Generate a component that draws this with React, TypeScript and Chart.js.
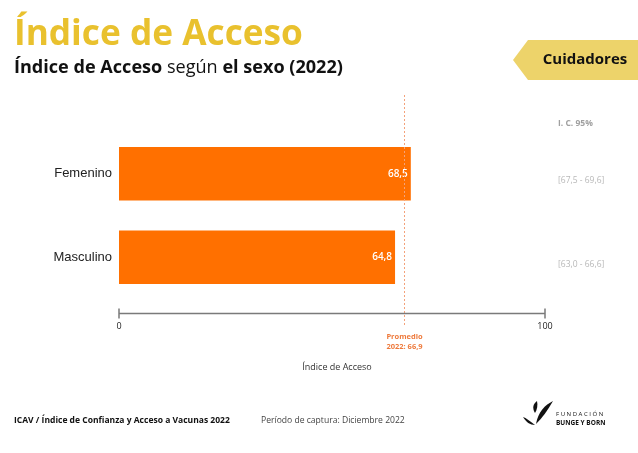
import React, { useEffect, useRef } from "react";
import { Chart, registerables } from "chart.js";

Chart.register(...registerables);

const categories = ["Femenino", "Masculino"];
const values = [68.5, 64.8];
const ciLabels = ["[67,5 - 69,6]", "[63,0 - 66,6]"];
const average = 66.9;
const xTickValues = [0, 100];

const W = 638;
const H = 453;
const ORANGE = "#FF7000";
const YELLOW = "#E9C12E";
const SANS = '"Open Sans", "DejaVu Sans", sans-serif';
const ARIAL = '"Liberation Sans", Arial, sans-serif';

const fmt = (v: number) => v.toFixed(1).replace(".", ",");

function fitSize(ctx: CanvasRenderingContext2D, parts: { t: string; w: string }[], family: string, target: number) {
  let total = 0;
  for (const p of parts) {
    ctx.font = `${p.w} 20px ${family}`;
    total += ctx.measureText(p.t).width;
  }
  return (20 * target) / total;
}

function drawParts(ctx: CanvasRenderingContext2D, parts: { t: string; w: string }[], family: string, size: number, x: number, y: number, color: string) {
  ctx.fillStyle = color;
  ctx.textAlign = "left";
  ctx.textBaseline = "middle";
  let cx = x;
  for (const p of parts) {
    ctx.font = `${p.w} ${size}px ${family}`;
    ctx.fillText(p.t, cx, y);
    cx += ctx.measureText(p.t).width;
  }
}

const decorPlugin = {
  id: "decor",
  afterDatasetsDraw(chart: any) {
    const ctx: CanvasRenderingContext2D = chart.ctx;
    const xs = chart.scales.x;
    const ys = chart.scales.y;
    ctx.save();
    // value labels
    const meta = chart.getDatasetMeta(0);
    meta.data.forEach((bar: any, i: number) => {
      ctx.font = `600 10px ${SANS}`;
      ctx.fillStyle = "#FFFFFF";
      ctx.textAlign = "right";
      ctx.textBaseline = "middle";
      ctx.fillText(fmt(values[i]), bar.x - 3, bar.y);
    });
    // average line
    const ax = Math.round(xs.getPixelForValue(average)) + 0.5;
    ctx.strokeStyle = "#F4A27A";
    ctx.lineWidth = 1;
    ctx.setLineDash([2, 2]);
    ctx.beginPath();
    ctx.moveTo(ax, 95);
    ctx.lineTo(ax, 327);
    ctx.stroke();
    ctx.setLineDash([]);
    ctx.font = `bold 7.5px ${SANS}`;
    ctx.fillStyle = "#EE7A3C";
    ctx.textAlign = "center";
    ctx.textBaseline = "middle";
    ctx.fillText("Promedio", ax, 337);
    ctx.fillText("2022: " + fmt(average), ax, 347);
    // axis line
    const axisY = 313.5;
    const x0 = xs.getPixelForValue(xTickValues[0]);
    const x1 = xs.getPixelForValue(xTickValues[xTickValues.length - 1]);
    ctx.strokeStyle = "#7A7A7A";
    ctx.lineWidth = 1.5;
    ctx.beginPath();
    ctx.moveTo(x0, axisY);
    ctx.lineTo(x1, axisY);
    xTickValues.forEach((v) => {
      const px = xs.getPixelForValue(v);
      ctx.moveTo(px, axisY - 5);
      ctx.lineTo(px, axisY + 5);
    });
    ctx.stroke();
    // CI column
    ctx.textAlign = "left";
    ctx.font = `bold 8.5px ${SANS}`;
    ctx.fillStyle = "#A0A0A0";
    ctx.fillText("I. C. 95%", 558, 124);
    ctx.font = `8.5px ${SANS}`;
    ctx.fillStyle = "#B8B8B8";
    categories.forEach((c, i) => {
      const py = ys.getPixelForValue(i);
      ctx.fillText(ciLabels[i], 558, py + 7);
    });
    ctx.restore();
  },
  afterDraw(chart: any) {
    const ctx: CanvasRenderingContext2D = chart.ctx;
    ctx.save();
    // title
    const tParts = [{ t: "Índice de Acceso", w: "bold" }];
    const ts = fitSize(ctx, tParts, SANS, 289);
    drawParts(ctx, tParts, SANS, ts, 14, 35, YELLOW);
    // subtitle
    const sParts = [
      { t: "Índice de Acceso ", w: "bold" },
      { t: "según ", w: "normal" },
      { t: "el sexo (2022)", w: "bold" },
    ];
    const ss = fitSize(ctx, sParts, SANS, 329);
    drawParts(ctx, sParts, SANS, ss, 14, 68, "#111111");
    // tag
    ctx.fillStyle = "#EDD36A";
    ctx.beginPath();
    ctx.moveTo(513, 60);
    ctx.lineTo(528, 40);
    ctx.lineTo(638, 40);
    ctx.lineTo(638, 80);
    ctx.lineTo(528, 80);
    ctx.closePath();
    ctx.fill();
    ctx.fillStyle = "#111111";
    ctx.font = `bold 15px ${SANS}`;
    ctx.textAlign = "center";
    ctx.textBaseline = "middle";
    ctx.fillText("Cuidadores", 585, 60);
    // x axis title
    ctx.font = `9px ${SANS}`;
    ctx.fillStyle = "#333333";
    ctx.fillText("Índice de Acceso", 337, 367);
    // footer
    const f1 = [{ t: "ICAV / Índice de Confianza y Acceso a Vacunas 2022", w: "bold" }];
    drawParts(ctx, f1, SANS, fitSize(ctx, f1, SANS, 216), 14, 421, "#111111");
    const f2 = [{ t: "Período de captura: Diciembre 2022", w: "normal" }];
    drawParts(ctx, f2, SANS, fitSize(ctx, f2, SANS, 144), 261, 421, "#444444");
    // logo
    ctx.fillStyle = "#111111";
    ctx.beginPath();
    ctx.moveTo(536, 424);
    ctx.bezierCurveTo(542, 418, 548, 410, 553, 401);
    ctx.bezierCurveTo(545, 405, 538, 412, 536, 424);
    ctx.closePath();
    ctx.fill();
    ctx.beginPath();
    ctx.moveTo(535, 425);
    ctx.bezierCurveTo(530, 421, 526, 418, 523, 417);
    ctx.bezierCurveTo(526, 422, 530, 425, 535, 425);
    ctx.closePath();
    ctx.fill();
    ctx.beginPath();
    ctx.moveTo(535, 413);
    ctx.bezierCurveTo(532, 408, 533, 404, 537, 401);
    ctx.bezierCurveTo(538, 405, 537, 410, 535, 413);
    ctx.closePath();
    ctx.fill();
    ctx.textAlign = "left";
    ctx.font = `6px ${SANS}`;
    ctx.fillText("F U N D A C I Ó N", 556, 414);
    ctx.font = `bold 6.5px ${SANS}`;
    ctx.fillText("BUNGE Y BORN", 556, 423);
    ctx.restore();
  },
};

export default function App() {
  const ref = useRef<HTMLCanvasElement>(null);
  useEffect(() => {
    document.body.style.margin = "0";
    document.body.style.background = "#FFFFFF";
    const chart = new Chart(ref.current!, {
      type: "bar",
      data: {
        labels: categories,
        datasets: [
          {
            data: values,
            backgroundColor: ORANGE,
            borderWidth: 0,
            barPercentage: 0.64,
            categoryPercentage: 1,
          },
        ],
      },
      options: {
        indexAxis: "y",
        responsive: false,
        animation: false,
        layout: { padding: { left: 0, right: W - 545, top: 132, bottom: H - 299 - 40 } },
        plugins: { legend: { display: false }, tooltip: { enabled: false } },
        scales: {
          x: {
            min: 0,
            max: 100,
            afterBuildTicks: (s: any) => {
              s.ticks = xTickValues.map((v) => ({ value: v }));
            },
            afterFit: (s: any) => {
              s.height = 40;
            },
            grid: { display: false, drawTicks: false },
            border: { display: false },
            ticks: {
              padding: 22,
              font: { family: SANS, size: 9 },
              color: "#222222",
              maxRotation: 0,
            },
          },
          y: {
            afterFit: (s: any) => {
              s.width = 119;
            },
            grid: { display: false, drawTicks: false },
            border: { display: false },
            ticks: {
              padding: 7,
              font: { family: ARIAL, size: 13 },
              color: "#222222",
            },
          },
        },
      },
      plugins: [decorPlugin],
    });
    return () => chart.destroy();
  }, []);
  return (
    <div style={{ position: "fixed", left: 0, top: 0, width: W, height: H, background: "#fff" }}>
      <canvas ref={ref} width={W} height={H} style={{ width: W, height: H, display: "block" }} />
    </div>
  );
}
